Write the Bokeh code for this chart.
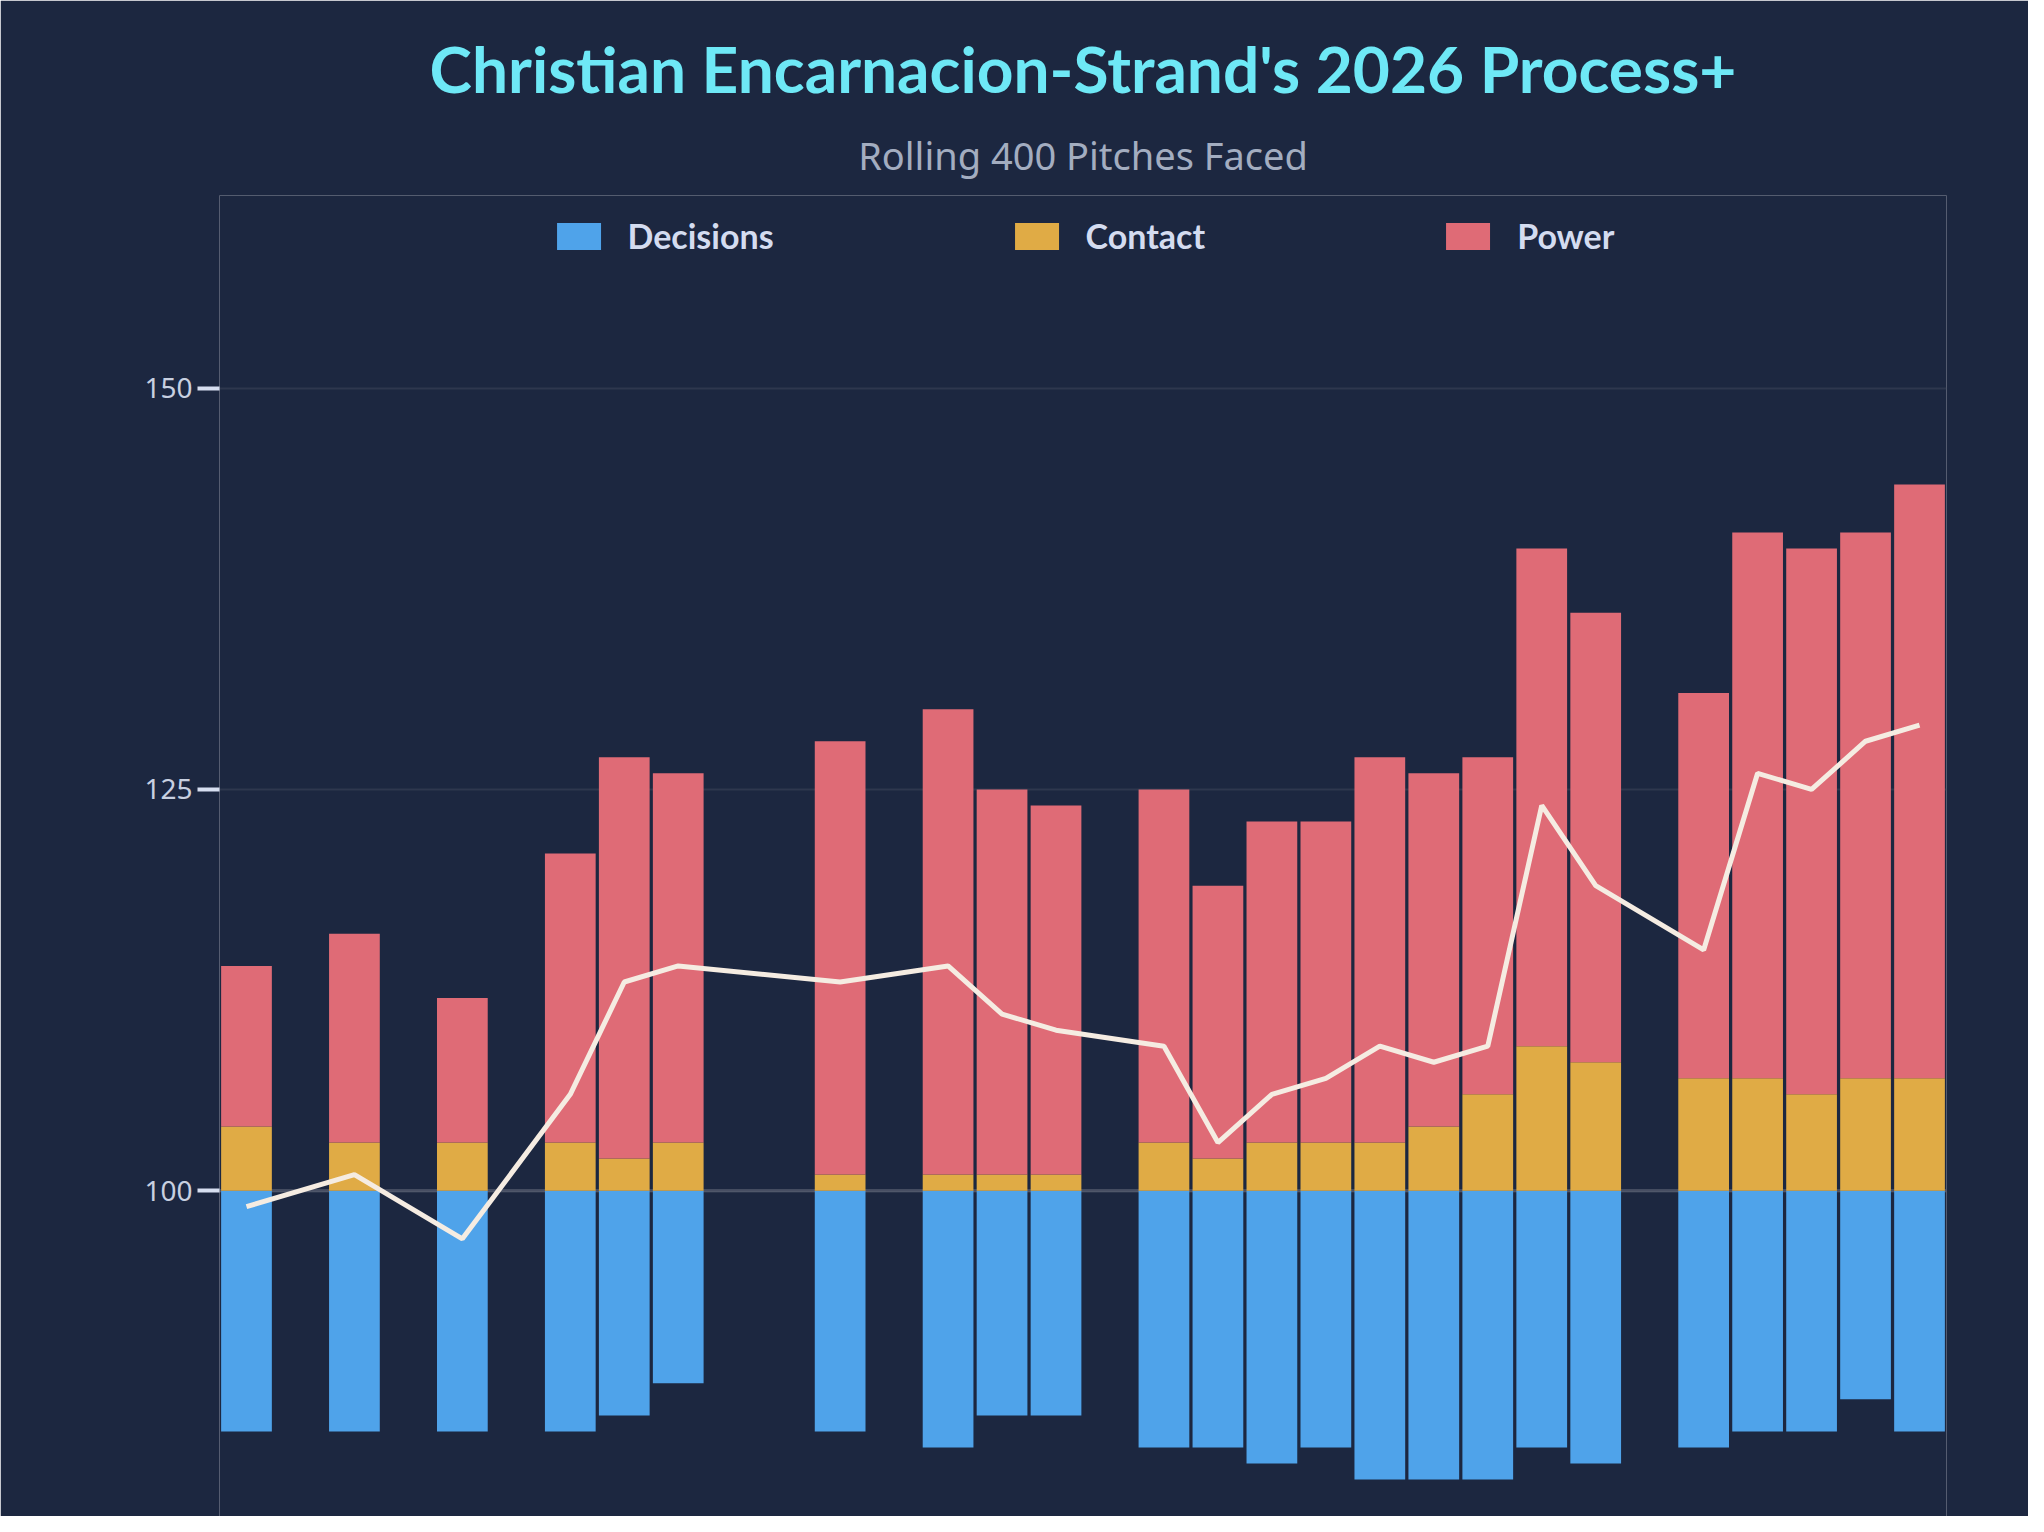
from bokeh.plotting import figure
from bokeh.models import Title, Legend, LegendItem, ColumnDataSource, FixedTicker, Range1d
from bokeh.embed import file_html
from bokeh.resources import INLINE

slots     = [0, 2, 4, 6, 7, 8, 11, 13, 14, 15, 17, 18, 19, 20, 21, 22, 23, 24, 25, 27, 28, 29, 30, 31]
decisions = [85, 85, 85, 85, 86, 88, 85, 84, 86, 86, 84, 84, 83, 84, 82, 82, 82, 84, 83, 84, 85, 85, 87, 85]
contact   = [104, 103, 103, 103, 102, 103, 101, 101, 101, 101, 103, 102, 103, 103, 103, 104, 106, 109, 108, 107, 107, 106, 107, 107]
power     = [114, 116, 112, 121, 127, 126, 128, 130, 125, 124, 125, 119, 123, 123, 127, 126, 127, 140, 136, 131, 141, 140, 141, 144]
process   = [99, 101, 97, 106, 113, 114, 113, 114, 111, 110, 109, 103, 106, 107, 109, 108, 109, 124, 119, 115, 126, 125, 128, 129]
base = [100] * len(slots)

src = ColumnDataSource(dict(x=slots, dec=decisions, con=contact, pow=power, pro=process, base=base))

BG = "#1c2740"
p = figure(width=2028, height=1516, output_backend="svg", toolbar_location=None,
           x_range=Range1d(-0.5, 31.5), y_range=Range1d(79.7, 162),
           background_fill_color=BG, border_fill_color=BG, outline_line_color=None,
           min_border_left=219, min_border_right=82, min_border_bottom=0, min_border_top=195)
p.outline_line_alpha = 0
p.outline_line_width = 0

w = 0.94
r1 = p.vbar(x="x", bottom="dec", top="base", width=w, fill_color="#4fa3ea", line_color=None, source=src)
r2 = p.vbar(x="x", bottom="base", top="con", width=w, fill_color="#e0ab45", line_color=None, source=src)
r3 = p.vbar(x="x", bottom="con", top="pow", width=w, fill_color="#df6b76", line_color=None, source=src)
p.line(x="x", y="pro", line_width=5, color="#f5ece2", source=src)
p.line(x=[-0.5, 31.5], y=[100, 100], line_width=3, color="#6a6f80", alpha=0.8, level="underlay")

p.xaxis.visible = False
p.xgrid.visible = False
p.yaxis.ticker = FixedTicker(ticks=[100, 125, 150])
p.yaxis.axis_line_color = None
p.yaxis.major_tick_out = 22
p.yaxis.major_tick_in = 0
p.yaxis.major_tick_line_width = 4
p.yaxis.major_tick_line_color = "#d6def0"
p.yaxis.minor_tick_line_color = None
p.yaxis.major_label_text_color = "#c8d0e0"
p.yaxis.major_label_text_font = "Noto Sans"
p.yaxis.major_label_text_font_size = "28px"
p.ygrid.grid_line_color = "#3a4358"
p.ygrid.grid_line_alpha = 0.6
p.ygrid.grid_line_width = 2

legend = Legend(items=[LegendItem(label="Decisions", renderers=[r1]),
                       LegendItem(label="Contact", renderers=[r2]),
                       LegendItem(label="Power", renderers=[r3])],
                orientation="horizontal", location="top_center",
                background_fill_alpha=0, border_line_color=None,
                label_text_color="#d4dcf0", label_text_font="Lato", label_text_font_style="bold",
                label_text_font_size="34px", glyph_width=55, glyph_height=34,
                spacing=235, label_standoff=22, margin=20, padding=0)
p.add_layout(legend, "center")
p.add_layout(Title(text="Rolling 400 Pitches Faced", align="center", text_color="#a3adc0",
                   text_font="Noto Sans", text_font_size="38px", text_font_style="normal",
                   standoff=30), "above")
p.add_layout(Title(text="Christian Encarnacion-Strand's 2026 Process+", align="center",
                   text_color="#6ee8f6", text_font="Lato", text_font_size="64px",
                   text_font_style="bold"), "above")

open("out.html", "w").write(file_html(p, INLINE))
